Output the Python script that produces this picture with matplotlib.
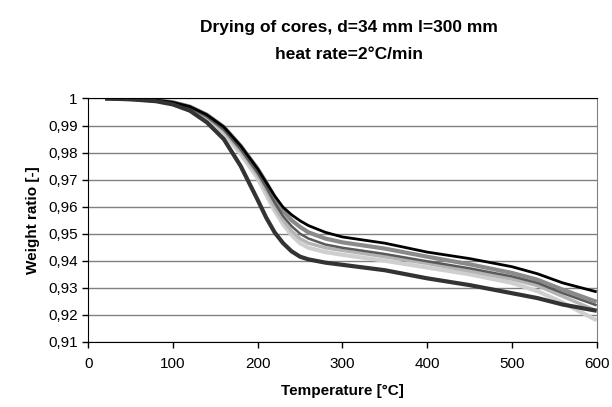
import numpy as np
import matplotlib
matplotlib.use('Agg')
import matplotlib.pyplot as plt

plt.rcParams['font.family'] = ['Liberation Sans', 'DejaVu Sans']

# temperature grid shared by the curves [°C]
temp = [20, 50, 80, 100, 120, 140, 160, 180, 200, 210, 220, 230, 240, 250,
        260, 280, 300, 350, 400, 450, 500, 530, 560, 600]

# weight ratios
w_light = [1.0, 0.9998, 0.9992, 0.9982, 0.9962, 0.9925, 0.9872, 0.9795, 0.9705, 0.9645, 0.9585, 0.9535, 0.9495,
           0.9465, 0.9448, 0.9432, 0.9422, 0.9400, 0.9375, 0.9350, 0.9318, 0.9288, 0.9245, 0.9180]
w_silver = [1.0, 0.9998, 0.9993, 0.9983, 0.9965, 0.9930, 0.9880, 0.9805, 0.9718, 0.9660, 0.9600, 0.9550, 0.9510,
            0.9482, 0.9465, 0.9448, 0.9438, 0.9415, 0.9390, 0.9362, 0.9332, 0.9308, 0.9268, 0.9215]
w_gray = [1.0, 0.9998, 0.9994, 0.9986, 0.9970, 0.9940, 0.9895, 0.9825, 0.9740, 0.9690, 0.9635, 0.9585, 0.9550,
          0.9525, 0.9505, 0.9482, 0.9468, 0.9445, 0.9415, 0.9387, 0.9355, 0.9330, 0.9293, 0.9248]
w_mid = [1.0, 0.9998, 0.9993, 0.9984, 0.9967, 0.9933, 0.9885, 0.9812, 0.9725, 0.9672, 0.9615, 0.9565, 0.9528,
         0.9500, 0.9482, 0.9460, 0.9448, 0.9425, 0.9398, 0.9372, 0.9342, 0.9318, 0.9280, 0.9235]
w_black = [1.0, 0.9998, 0.9994, 0.9986, 0.9970, 0.9940, 0.9895, 0.9825, 0.9740, 0.9690, 0.9640, 0.9598, 0.9570,
           0.9548, 0.9530, 0.9505, 0.9488, 0.9465, 0.9432, 0.9408, 0.9378, 0.9352, 0.9318, 0.9285]
w_dark = [1.0, 0.9997, 0.9990, 0.9978, 0.9955, 0.9912, 0.9850, 0.9750, 0.9625, 0.9560, 0.9505, 0.9465, 0.9435,
          0.9415, 0.9405, 0.9393, 0.9385, 0.9365, 0.9335, 0.9310, 0.9280, 0.9262, 0.9238, 0.9215]

series = [
    (w_light, '#cfcfcf', 3.0),
    (w_silver, '#b4b4b4', 2.4),
    (w_gray, '#8a8a8a', 3.0),
    (w_mid, '#5a5a5a', 1.8),
    (w_black, '#000000', 2.0),
    (w_dark, '#333333', 3.0),
]

fig = plt.figure(figsize=(6.12, 4.07), dpi=100)
ax = fig.add_axes([0.144, 0.160, 0.831, 0.598])

ax.set_axisbelow(True)
ax.yaxis.grid(True, color='#808080', lw=1.0)

for vals, col, lw in series:
    ax.plot(temp, vals, color=col, lw=lw, solid_capstyle='butt')

ax.set_xlim(0, 600)
ax.set_ylim(0.91, 1.0)
ax.set_xticks(np.arange(0, 601, 100))
ax.set_yticks(np.round(np.arange(0.91, 1.0001, 0.01), 2))
ylabels = ['1' if abs(v - 1) < 1e-9 else f'{v:.2f}'.replace('.', ',') for v in ax.get_yticks()]
ax.set_yticklabels(ylabels)

ax.tick_params(axis='both', labelsize=11, direction='out', length=4, width=1, color='black')
ax.tick_params(axis='x', pad=7)
for s in ['left', 'bottom']:
    ax.spines[s].set_color('black')
ax.spines['top'].set_color('black')
ax.spines['right'].set_color('#808080')

ax.set_xlabel('Temperature [°C]', fontsize=11, fontweight='bold', labelpad=9)
ax.set_ylabel('Weight ratio [-]', fontsize=11, fontweight='bold', labelpad=6)

fig.text(0.570, 0.932, 'Drying of cores, d=34 mm l=300 mm', ha='center', va='center',
         fontsize=12.5, fontweight='bold')
fig.text(0.570, 0.866, 'heat rate=2°C/min', ha='center', va='center',
         fontsize=12.5, fontweight='bold')

fig.savefig('out.png', dpi=100)
